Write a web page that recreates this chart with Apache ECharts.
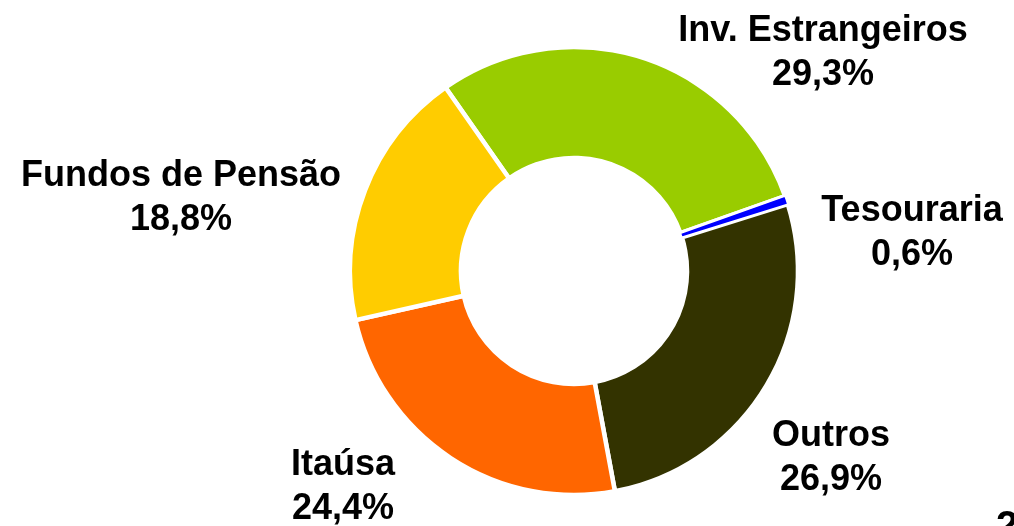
<!DOCTYPE html>
<html>
<head>
<meta charset="utf-8">
<script src="https://cdn.jsdelivr.net/npm/echarts@6/dist/echarts.min.js"></script>
<style>
  html, body { margin: 0; padding: 0; background: #FFFFFF; }
  #chart { width: 1014px; height: 526px; }
</style>
</head>
<body>
<div id="chart"></div>
<script>
// composição acionária (%)
var categories = ['Inv. Estrangeiros', 'Tesouraria', 'Outros', 'Itaúsa', 'Fundos de Pensão']
var shares = [29.3, 0.6, 26.9, 24.4, 18.8]
var colors = ['#99CC00', '#0000FF', '#333300', '#FF6600', '#FFCC00']
// onde fica o centro de cada rótulo (px)
var labelPos = [[823, 53], [912, 233], [831, 458], [343, 487], [181, 198]]
// fatia fina redesenhada por cima para não sumir sob as bordas
var thinSlice = 'Tesouraria'

var chart = echarts.init(document.getElementById('chart'))

var pieBase = {
  type: 'pie',
  center: [574, 271],
  radius: [113, 224],
  startAngle: 125,
  clockwise: true,
  avoidLabelOverlap: false,
  emphasis: { disabled: true }
}

var option = {
  animation: false,
  series: [
    Object.assign({}, pieBase, {
      itemStyle: {
        borderColor: '#FFFFFF',
        borderWidth: 4.5
      },
      label: {
        show: true,
        position: 'outside',
        color: '#000000',
        fontFamily: 'Liberation Sans, Arial, sans-serif',
        fontWeight: 'bold',
        fontSize: 36,
        lineHeight: 44,
        align: 'center',
        formatter: function (p) {
          return p.name + '\n' + String(p.value).replace('.', ',') + '%'
        }
      },
      labelLine: { show: false },
      labelLayout: function (params) {
        var p = labelPos[params.dataIndex]
        return { x: p[0], y: p[1], align: 'center', verticalAlign: 'middle' }
      },
      data: categories.map(function (name, i) {
        return { name: name, value: shares[i], itemStyle: { color: colors[i] } }
      })
    }),
    Object.assign({}, pieBase, {
      silent: true,
      z: 3,
      label: { show: false },
      labelLine: { show: false },
      data: categories.map(function (name, i) {
        var on = name === thinSlice
        return {
          name: name,
          value: shares[i],
          itemStyle: on
            ? { color: colors[i], borderColor: '#FFFFFF', borderWidth: 1.5 }
            : { color: 'rgba(0,0,0,0)', borderWidth: 0 }
        }
      })
    })
  ],
  graphic: [
    {
      // número da página cortado no canto
      type: 'text',
      left: 996,
      top: 508,
      style: {
        text: '2',
        fill: '#000000',
        font: 'bold 40px "Liberation Sans", Arial, sans-serif'
      }
    }
  ]
}

chart.setOption(option)
</script>
</body>
</html>
